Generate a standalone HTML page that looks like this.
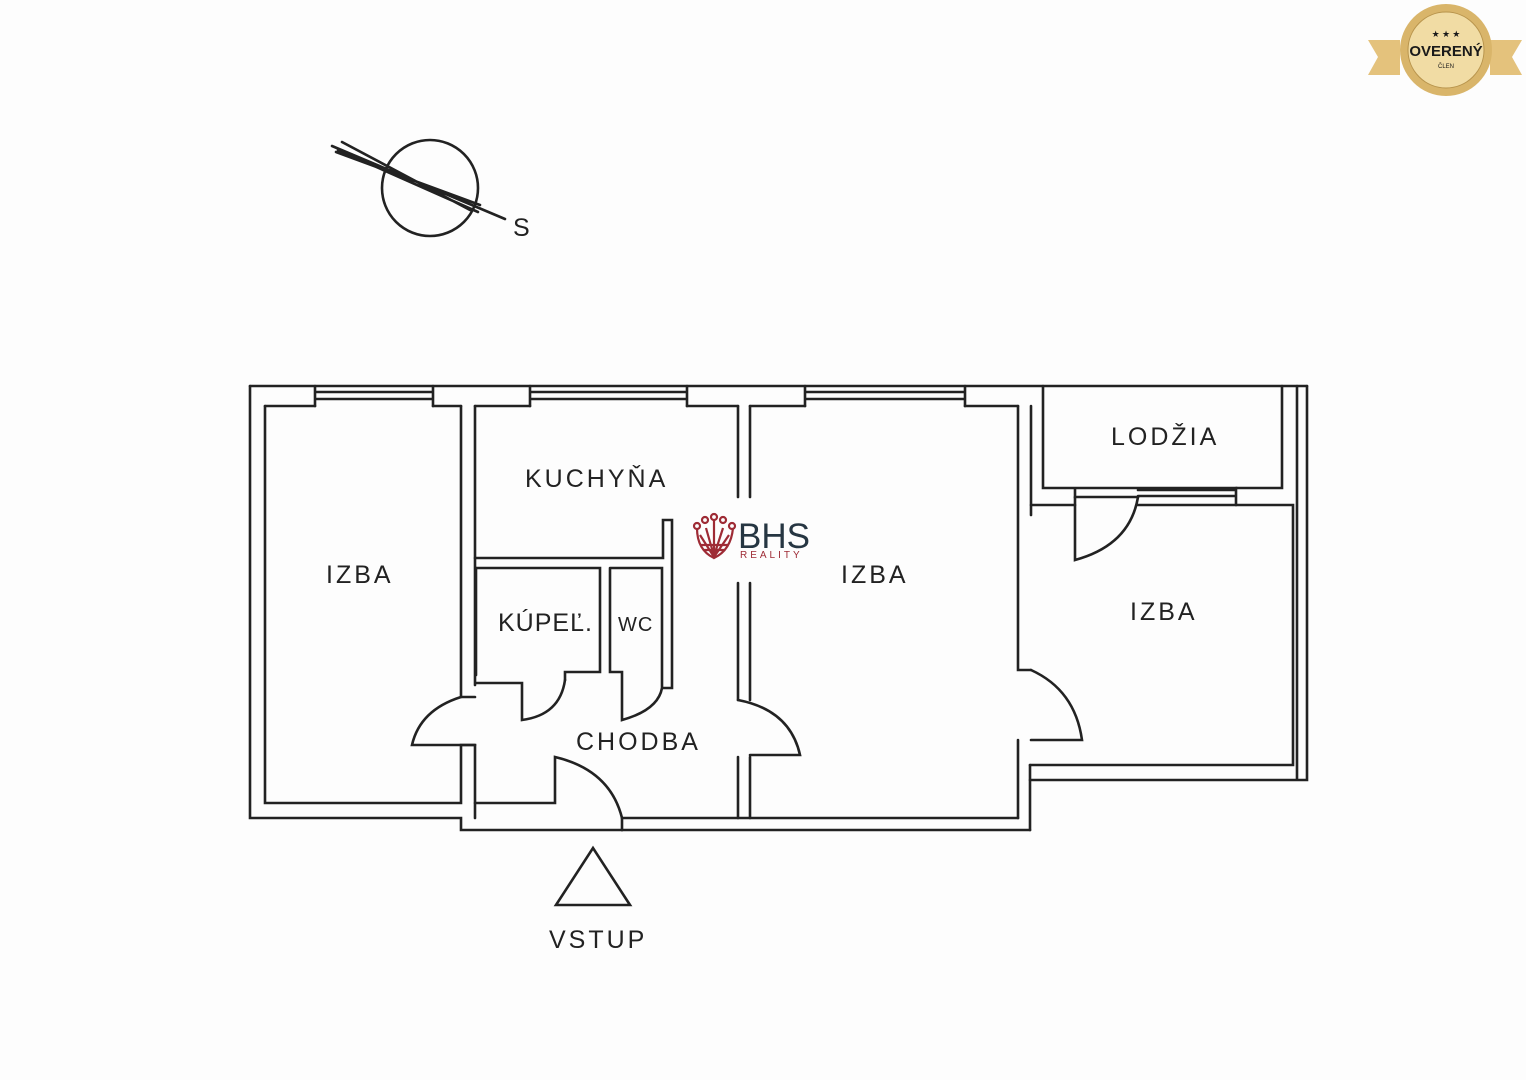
<!DOCTYPE html>
<html><head><meta charset="utf-8"><style>
html,body{margin:0;padding:0;background:#fdfdfd;}
svg{display:block}
.t{font-family:"Liberation Sans",sans-serif;font-size:25px;fill:#222;letter-spacing:3px}
</style></head><body>
<svg width="1526" height="1080" viewBox="0 0 1526 1080" xmlns="http://www.w3.org/2000/svg">
<rect width="1526" height="1080" fill="#fdfdfd"/>
<g stroke="#222" stroke-width="2.6" fill="none" stroke-linecap="round">
<circle cx="430" cy="188" r="48"/>
<path d="M332 146 L505 219 M338 150 L478 212 M342 142 L470 210 M336 152 L480 205"/>
<path d="M250 386 L1043 386 M1043 386 L1307 386"/>
<path d="M265 406 L315 406 M433 406 L461 406 M475 406 L530 406 M687 406 L738 406 M750 406 L805 406 M965 406 L1018 406"/>
<path d="M315 392 L433 392 M315 399 L433 399 M315 386 L315 406 M433 386 L433 406"/>
<path d="M530 392 L687 392 M530 399 L687 399 M530 386 L530 406 M687 386 L687 406"/>
<path d="M805 392 L965 392 M805 399 L965 399 M805 386 L805 406 M965 386 L965 406"/>
<path d="M250 386 L250 818 L461 818 L461 830 L622 830"/>
<path d="M265 406 L265 803 L461 803 L461 745 L475 745 L475 818"/>
<path d="M461 406 L461 697 L475 697 M475 406 L475 685"/>
<path d="M461 697 Q420 710 412 745 L475 745"/>
<path d="M475 803 L555 803 L555 757 Q610 770 622 818 L622 830"/>
<path d="M475 558 L663 558 L663 520 L672 520 L672 688 L663 688"/>
<path d="M476 568 L600 568 L600 672 L565 672 L565 680"/>
<path d="M476 568 L476 675 M476 683 L522 683 L522 720 Q560 715 565 680"/>
<path d="M610 568 L662 568 L662 688 M610 568 L610 672 L622 672 L622 720 Q658 710 662 688"/>
<path d="M738 406 L738 497 M750 406 L750 497 M738 583 L738 700 M750 583 L750 700"/>
<path d="M738 700 Q790 710 800 755 L750 755 M738 757 L738 818 M750 757 L750 818"/>
<path d="M622 818 L1018 818 M622 830 L1030 830"/>
<path d="M1018 406 L1018 670 L1031 670 M1031 406 L1031 515"/>
<path d="M1031 670 Q1075 690 1082 740 L1031 740 M1018 740 L1018 818 M1030 765 L1030 830"/>
<path d="M1043 386 L1043 488 L1075 488 L1075 497 L1138 497 M1075 488 L1236 488 L1236 505 M1138 490 L1236 490 M1138 496 L1236 496"/>
<path d="M1282 386 L1282 488 L1236 488 M1297 386 L1297 780 M1307 386 L1307 780 L1030 780"/>
<path d="M1031 505 L1075 505 M1138 505 L1293 505 L1293 765 L1030 765"/>
<path d="M1075 497 L1075 560 Q1130 545 1138 497"/>
<path d="M556 905 L593 848 L630 905 Z"/>
</g>
<text x="513" y="236" class="t" font-size="22">S</text>
<text x="525" y="487" class="t">KUCHYŇA</text>
<text x="326" y="583" class="t">IZBA</text>
<text x="498" y="631" class="t" font-size="21" style="letter-spacing:1px">KÚPEĽ.</text>
<text x="618" y="631" class="t" style="font-size:20px;letter-spacing:1px">WC</text>
<text x="576" y="750" class="t">CHODBA</text>
<text x="841" y="583" class="t">IZBA</text>
<text x="1111" y="445" class="t">LODŽIA</text>
<text x="1130" y="620" class="t">IZBA</text>
<text x="549" y="948" class="t">VSTUP</text>
<g stroke="#9e2b35" stroke-width="2.2" fill="none">
<path d="M697 528 Q697 550 714 558 Q731 550 733 528 M700 535 L714 557 L729 535 M706 528 L714 556 L723 528 M714 520 L714 556 M700 545 L728 545 M703 550 L725 550"/>
<circle cx="697" cy="526" r="3"/><circle cx="705" cy="520" r="3"/><circle cx="714" cy="517" r="3"/><circle cx="723" cy="520" r="3"/><circle cx="732" cy="526" r="3"/>
</g>
<text x="738" y="548" font-family="Liberation Sans,sans-serif" font-size="35" fill="#263642">BHS</text>
<text x="740" y="558" font-family="Liberation Sans,sans-serif" font-size="10" fill="#9e2b35" letter-spacing="3">REALITY</text>
<path d="M1368 40 L1400 40 L1400 75 L1368 75 L1378 57 Z M1522 40 L1490 40 L1490 75 L1522 75 L1512 57 Z" fill="#e4c27c"/>
<circle cx="1446" cy="50" r="46" fill="#d9b56a"/>
<circle cx="1446" cy="50" r="38" fill="#f1dca4" stroke="#b8944c"/>
<text x="1446" y="56" text-anchor="middle" font-family="Liberation Sans,sans-serif" font-weight="bold" font-size="15" fill="#1a1a1a">OVERENÝ</text>
<text x="1446" y="68" text-anchor="middle" font-family="Liberation Sans,sans-serif" font-size="6" fill="#1a1a1a">ČLEN</text>
<text x="1446" y="37" text-anchor="middle" font-size="9" fill="#1a1a1a">★ ★ ★</text>
</svg>
</body></html>
